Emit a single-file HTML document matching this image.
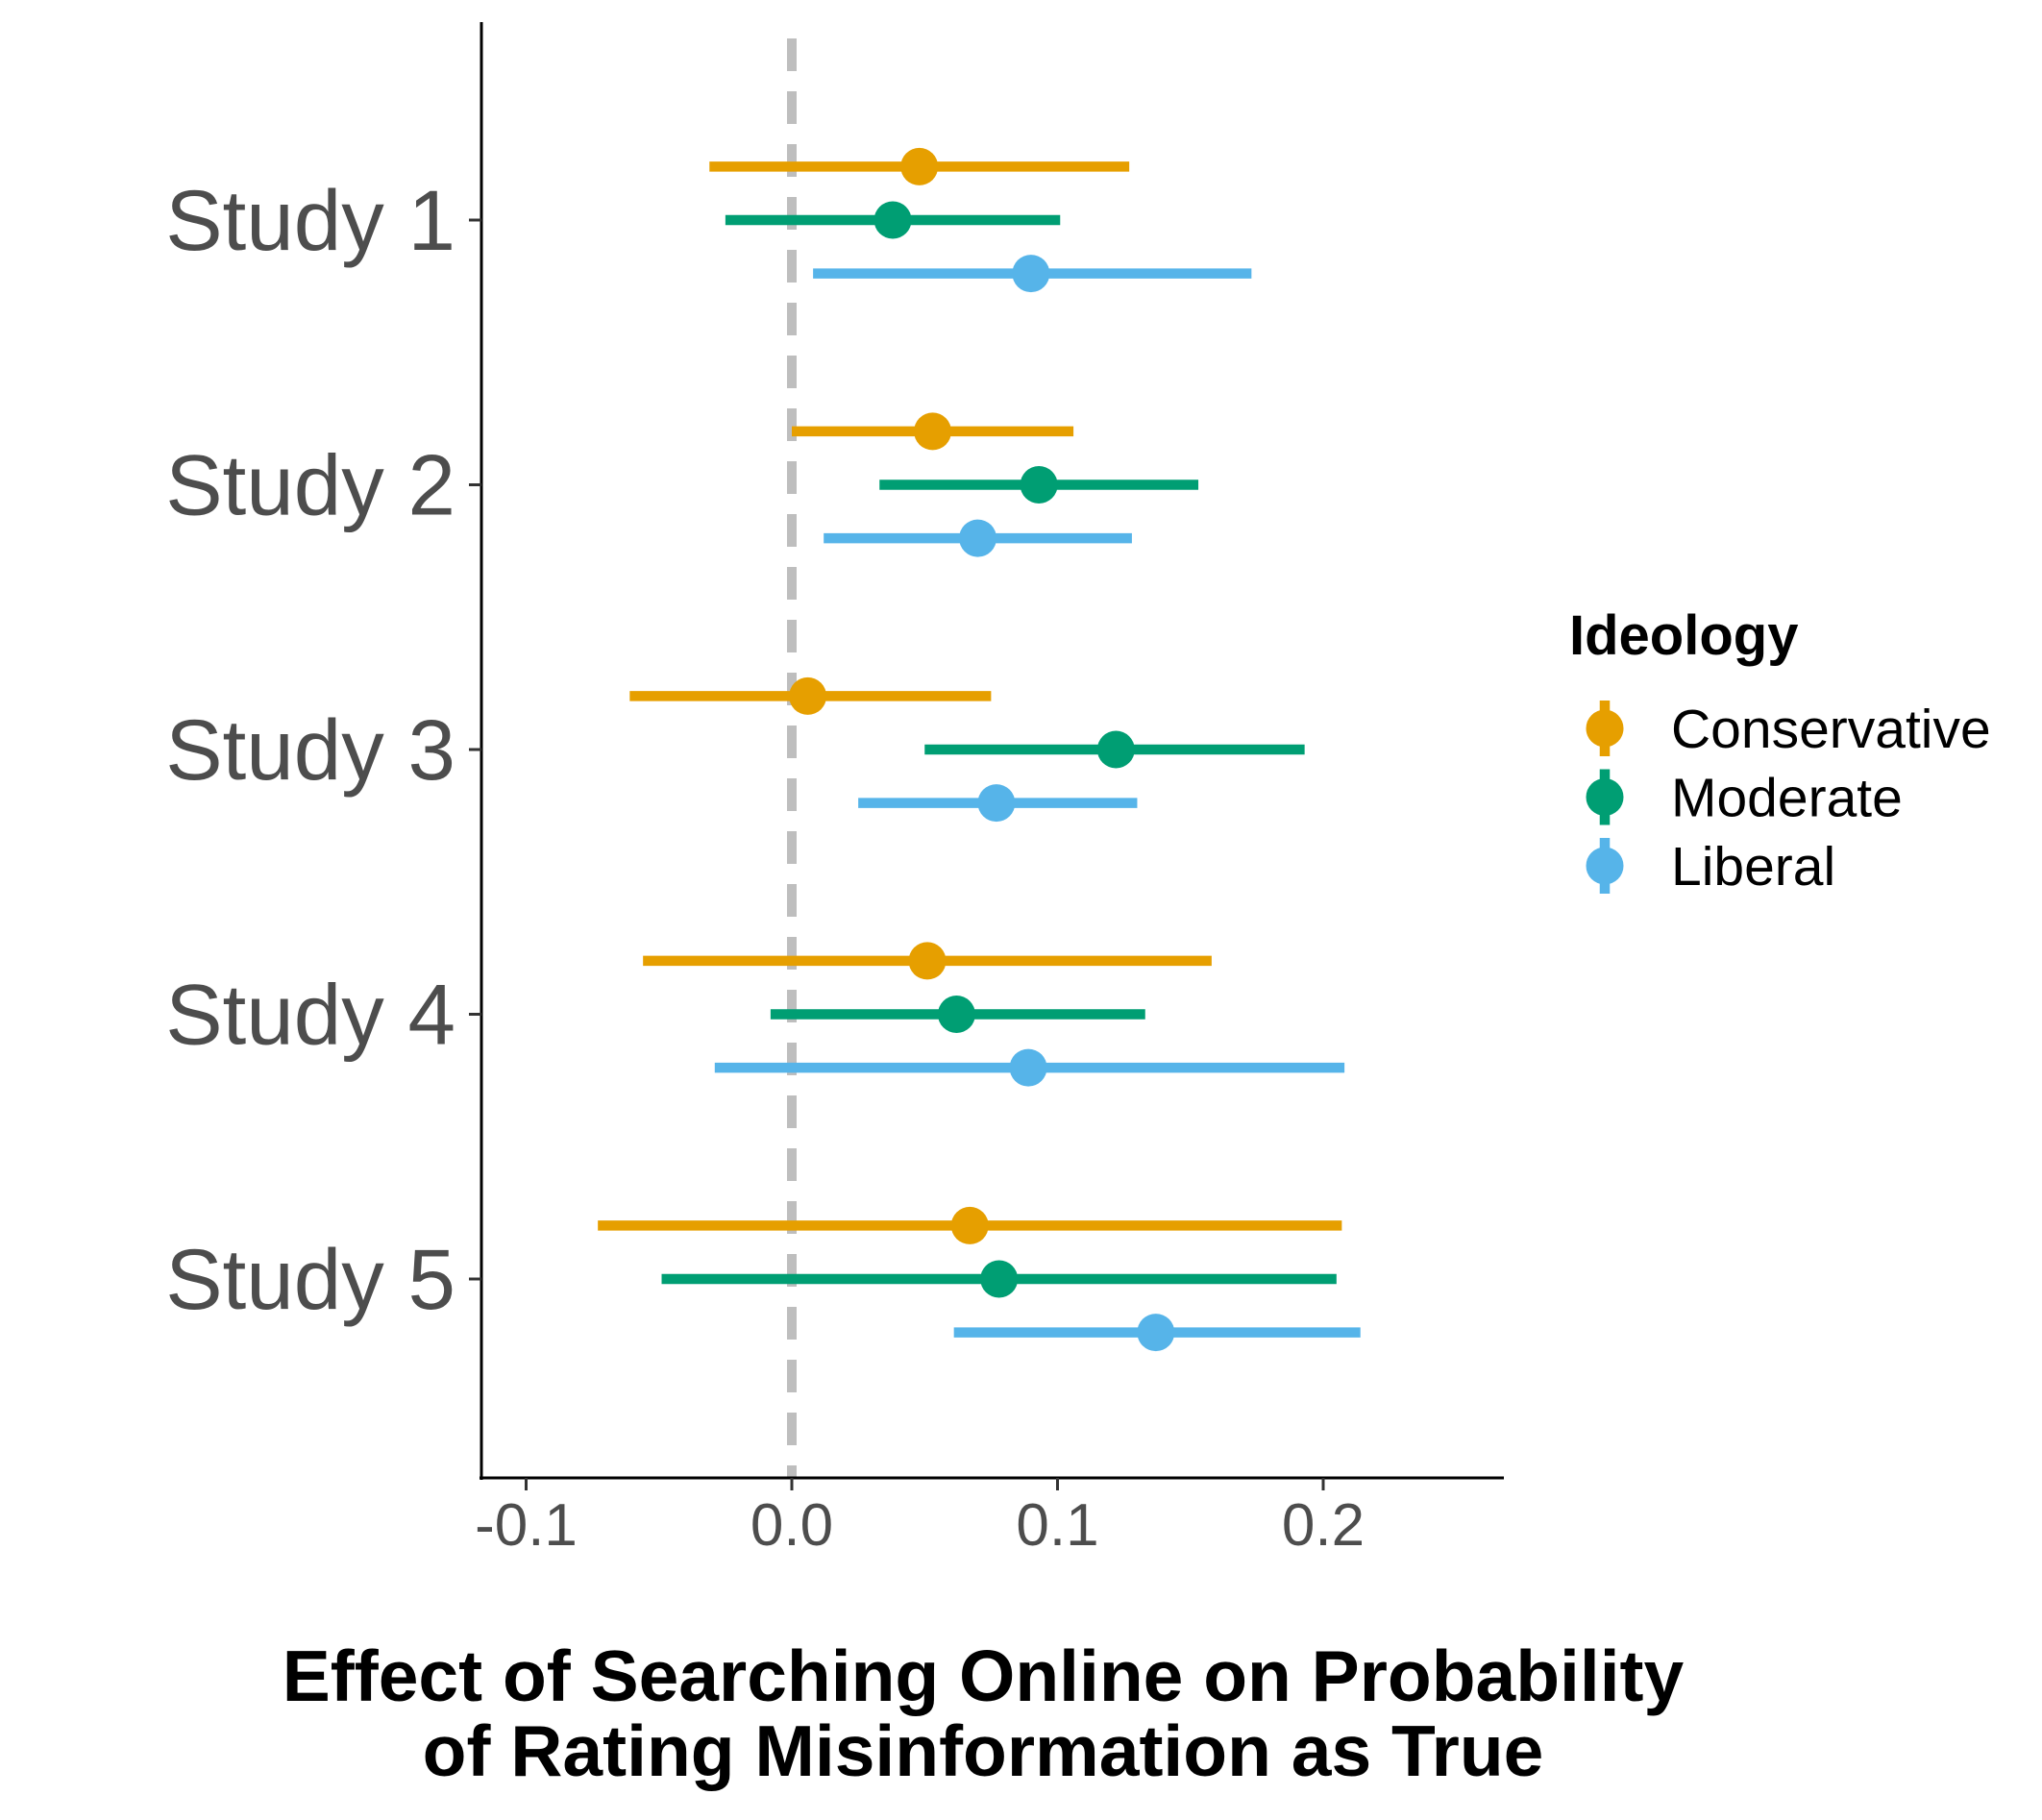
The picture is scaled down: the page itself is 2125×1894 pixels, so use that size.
<!DOCTYPE html>
<html><head><meta charset="utf-8"><style>
body{margin:0;background:#fff}
svg text{font-family:"Liberation Sans",Arial,sans-serif}
</style></head><body>
<svg id="chart" width="2125" height="1889" viewBox="0 0 2125 1889" xmlns="http://www.w3.org/2000/svg">
<rect width="2125" height="1889" fill="#fff"/>
<line x1="824" y1="40" x2="824" y2="1538" stroke="#bebebe" stroke-width="10" stroke-dasharray="34,21"/>
<g id="marks2"></g>
<line x1="501" y1="23" x2="501" y2="1540" stroke="#000" stroke-width="3"/>
<line x1="499" y1="1538" x2="1565" y2="1538" stroke="#000" stroke-width="3"/>
<g id="axes"></g>
<text font-weight="bold" font-size="75" text-anchor="middle" x="1023" y="1770">Effect of Searching Online on Probability</text>
<text font-weight="bold" font-size="75" text-anchor="middle" x="1023" y="1848">of Rating Misinformation as True</text>
<g>
<text font-weight="bold" font-size="58" x="1633" y="681">Ideology</text>
<g id="legend"></g>
</g>
</svg>
<script>
const studies = ["Study 1","Study 2","Study 3","Study 4","Study 5"];
const groups = ["Conservative","Moderate","Liberal"];
const colors = ["#E69F00","#009E73","#56B4E9"];
const xTicks = [-0.1,0.0,0.1,0.2];
const xTickLabels = ["-0.1","0.0","0.1","0.2"];
const consEst = [0.048,0.053,0.006,0.051,0.067];
const consLo = [-0.031,0.000,-0.061,-0.056,-0.073];
const consHi = [0.127,0.106,0.075,0.158,0.207];
const modEst = [0.038,0.093,0.122,0.062,0.078];
const modLo = [-0.025,0.033,0.050,-0.008,-0.049];
const modHi = [0.101,0.153,0.193,0.133,0.205];
const libEst = [0.090,0.070,0.077,0.089,0.137];
const libLo = [0.008,0.012,0.025,-0.029,0.061];
const libHi = [0.173,0.128,0.130,0.208,0.214];

const NS="http://www.w3.org/2000/svg";
function xs(v){return 824+v*2765;}
function ys(i){return 229+i*275.5;}
function mk(t,a,p){const e=document.createElementNS(NS,t);for(const k in a)e.setAttribute(k,a[k]);p.appendChild(e);return e;}
const marks=document.getElementById('marks2');
const series=[[consEst,consLo,consHi],[modEst,modLo,modHi],[libEst,libLo,libHi]];
series.forEach((s,g)=>{
  studies.forEach((st,i)=>{
    const y=ys(i)+(g-1)*55.6;
    const l=mk('line',{x1:xs(s[1][i]),x2:xs(s[2][i]),y1:y,y2:y,stroke:colors[g],'stroke-width':10.5},marks);
    
    
    const c=mk('circle',{cx:xs(s[0][i]),cy:y,r:19.5,fill:colors[g]},marks);
    
    
  });
});
const ax=document.getElementById('axes');
studies.forEach((st,i)=>{
  const y=ys(i);
  const t=mk('line',{x1:488,x2:501,y1:y,y2:y,stroke:'#333','stroke-width':3},ax);
  
  
  const tx=mk('text',{x:474,y:y+31,'text-anchor':'end','font-size':89,fill:'#4d4d4d'},ax);
  tx.textContent=st;
  
  
});
xTicks.forEach((v,i)=>{
  const x=xs(v);
  const t=mk('line',{x1:x,x2:x,y1:1538,y2:1551,stroke:'#333','stroke-width':3},ax);
  
  
  const tx=mk('text',{x:x,y:1608,'text-anchor':'middle','font-size':62,fill:'#4d4d4d'},ax);
  tx.textContent=xTickLabels[i];
  
  
});
const lg=document.getElementById('legend');
groups.forEach((g,i)=>{
  const y=758+i*71.5;
  const e=mk('g',{},lg);
  
  
  mk('line',{x1:1670,x2:1670,y1:y-29,y2:y+29,stroke:colors[i],'stroke-width':10.5},e);
  mk('circle',{cx:1670,cy:y,r:19.5,fill:colors[i]},e);
  const tx=mk('text',{x:1739,y:y+20,'font-size':57,fill:'#000'},e);
  tx.textContent=g;
});
</script>
</body></html>
